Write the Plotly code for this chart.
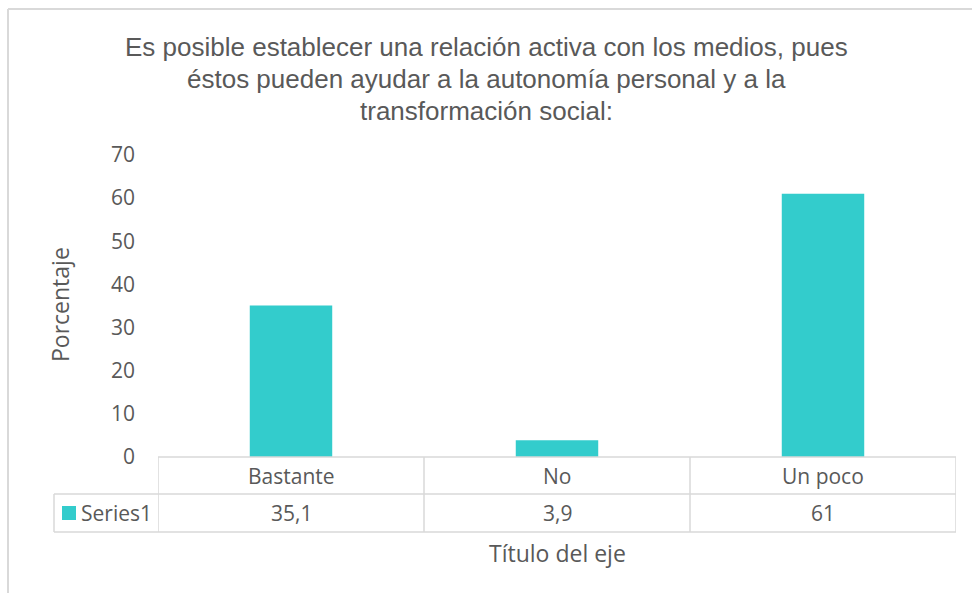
import plotly.graph_objects as go

W, H = 972, 593

categories = ["Bastante", "No", "Un poco"]
values = [35.1, 3.9, 61]
series_name = "Series1"
y_ticks = [0, 10, 20, 30, 40, 50, 60, 70]
title_lines = ["Es posible establecer una relación activa con los medios, pues",
               "éstos pueden ayudar a la autonomía personal y a la",
               "transformación social:"]
y_title = "Porcentaje"
x_title = "Título del eje"

BAR = "#33CCCC"
TXT = "#595959"
LINE = "#D9D9D9"
FONT = "Open Sans"


def px(x):
    return x / W


def py(y):
    return 1 - y / H


# plot area in pixels
X0, X1 = 158, 956
Y_TOP, Y_BOT = 155, 457
ROW1, ROW2 = 494, 532
TBL_L = 54

fig = go.Figure()
fig.add_trace(go.Bar(
    x=list(range(len(categories))), y=values, width=0.31,
    marker=dict(color=BAR, line=dict(width=0)), name=series_name,
    showlegend=False, hoverinfo="x+y",
))

shapes = []
lw = 1.5
# outer chart frame (top + left visible)
shapes.append(dict(type="line", xref="paper", yref="paper", x0=px(8), x1=1.0, y0=py(9), y1=py(9),
                   line=dict(color=LINE, width=2)))
shapes.append(dict(type="line", xref="paper", yref="paper", x0=px(8), x1=px(8), y0=py(9), y1=0,
                   line=dict(color=LINE, width=2)))
# table horizontal lines
shapes.append(dict(type="line", xref="x", yref="paper", x0=-0.5, x1=len(categories) - 0.5,
                   y0=py(Y_BOT), y1=py(Y_BOT), line=dict(color=LINE, width=lw)))
for yy in (ROW1, ROW2):
    shapes.append(dict(type="line", xref="paper", yref="paper", x0=px(TBL_L), x1=px(X1),
                       y0=py(yy), y1=py(yy), line=dict(color=LINE, width=lw)))
# table vertical lines
shapes.append(dict(type="line", xref="paper", yref="paper", x0=px(TBL_L), x1=px(TBL_L),
                   y0=py(ROW1), y1=py(ROW2), line=dict(color=LINE, width=lw)))
for i in range(len(categories) + 1):
    xb = i - 0.5
    shapes.append(dict(type="line", xref="x", yref="paper", x0=xb, x1=xb,
                       y0=py(Y_BOT), y1=py(ROW2), line=dict(color=LINE, width=lw)))
# legend key square
shapes.append(dict(type="rect", xref="paper", yref="paper", x0=px(62), x1=px(76),
                   y0=py(520), y1=py(506), fillcolor=BAR, line=dict(width=0)))

annotations = []
for k, line in enumerate(title_lines):
    annotations.append(dict(text=line, x=px(487), y=py(47 + 32 * k), xref="paper", yref="paper",
                            xanchor="center", yanchor="middle", showarrow=False,
                            font=dict(family="Liberation Sans, Arial", size=26, color=TXT)))
for i, (c, v) in enumerate(zip(categories, values)):
    annotations.append(dict(text=c, x=i, y=py((Y_BOT + ROW1) / 2), xref="x", yref="paper",
                            xanchor="center", yanchor="middle", showarrow=False,
                            font=dict(family=FONT, size=21, color=TXT)))
    annotations.append(dict(text=f"{v:g}".replace(".", ","), x=i, y=py((ROW1 + ROW2) / 2),
                            xref="x", yref="paper", xanchor="center", yanchor="middle",
                            showarrow=False, font=dict(family=FONT, size=21, color=TXT)))
annotations.append(dict(text=series_name, x=px(79), y=py(513), xref="paper", yref="paper",
                        xanchor="left", yanchor="middle", showarrow=False,
                        font=dict(family=FONT, size=21, color=TXT)))
annotations.append(dict(text=x_title, x=px(557), y=py(553), xref="paper",
                        yref="paper", xanchor="center", yanchor="middle", showarrow=False,
                        font=dict(family=FONT, size=23, color=TXT)))
annotations.append(dict(text=y_title, x=px(60), y=py(305), xref="paper", yref="paper",
                        xanchor="center", yanchor="middle", showarrow=False, textangle=-90,
                        font=dict(family=FONT, size=23, color=TXT)))

fig.update_layout(
    width=W, height=H,
    margin=dict(l=0, r=0, t=0, b=0, pad=0, autoexpand=False),
    paper_bgcolor="white", plot_bgcolor="white",
    shapes=shapes, annotations=annotations,
    xaxis=dict(domain=[px(X0), px(X1)], range=[-0.5, len(categories) - 0.5],
               showticklabels=False, showgrid=False, zeroline=False, showline=False,
               automargin=False, fixedrange=True),
    yaxis=dict(domain=[py(Y_BOT), py(Y_TOP)], range=[0, 70], tickvals=y_ticks,
               showgrid=False, zeroline=False, showline=False, ticks="",
               ticklabelstandoff=22, automargin=False,
               tickfont=dict(family=FONT, size=21, color=TXT), fixedrange=True),
    bargap=0.69,
)

post = (
    "document.body.style.margin='0';"
    "document.body.style.overflow='hidden';"
    "var d=document.getElementById('{plot_id}');"
    "d.style.position='fixed';d.style.top='0px';d.style.left='0px';"
)
fig.write_html("out.html", config={"displayModeBar": False}, post_script=post)
